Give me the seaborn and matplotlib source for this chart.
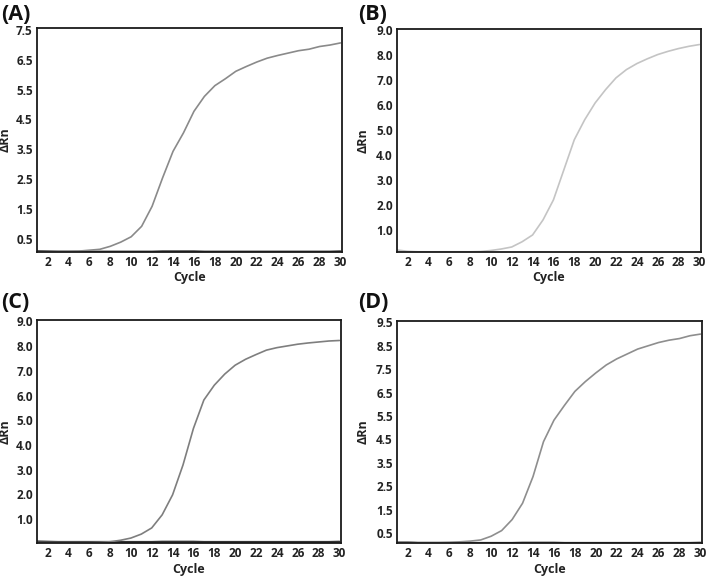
import matplotlib
matplotlib.use("Agg")
import matplotlib.pyplot as plt
import seaborn as sns
import pandas as pd

sns.set_theme(style="white")
plt.rcParams['font.family'] = ['Open Sans', 'DejaVu Sans']

cycles = list(range(1, 31))

curve_a = [0.08, 0.08, 0.08, 0.08, 0.09, 0.12, 0.15, 0.25, 0.39, 0.57,
           0.92, 1.59, 2.54, 3.43, 4.05, 4.77, 5.27, 5.63, 5.86, 6.11,
           6.27, 6.42, 6.55, 6.64, 6.72, 6.80, 6.85, 6.94, 6.99, 7.06]
curve_b = [0.20, 0.15, 0.13, 0.13, 0.13, 0.13, 0.13, 0.13, 0.14, 0.18,
           0.24, 0.32, 0.53, 0.80, 1.40, 2.20, 3.40, 4.60, 5.40, 6.07,
           6.60, 7.07, 7.40, 7.64, 7.83, 8.00, 8.13, 8.24, 8.33, 8.40]
curve_c = [0.05, 0.05, 0.05, 0.05, 0.05, 0.05, 0.06, 0.08, 0.14, 0.23,
           0.39, 0.64, 1.17, 1.98, 3.19, 4.67, 5.82, 6.42, 6.87, 7.23,
           7.47, 7.66, 7.84, 7.94, 8.01, 8.08, 8.13, 8.17, 8.21, 8.23]
curve_d = [0.12, 0.12, 0.09, 0.09, 0.09, 0.10, 0.12, 0.15, 0.20, 0.36,
           0.60, 1.07, 1.77, 2.91, 4.40, 5.32, 5.95, 6.55, 6.97, 7.34,
           7.68, 7.94, 8.15, 8.36, 8.50, 8.64, 8.74, 8.81, 8.93, 9.00]
neg_control = [0.09, 0.08, 0.07, 0.07, 0.07, 0.07, 0.07, 0.07, 0.07, 0.07,
               0.07, 0.07, 0.08, 0.08, 0.08, 0.08, 0.07, 0.07, 0.07, 0.07,
               0.07, 0.07, 0.07, 0.07, 0.07, 0.07, 0.07, 0.07, 0.07, 0.08]

panel_labels = ["(A)", "(B)", "(C)", "(D)"]
y_ticks = [
    [0.5, 1.5, 2.5, 3.5, 4.5, 5.5, 6.5, 7.5],
    [1.0, 2.0, 3.0, 4.0, 5.0, 6.0, 7.0, 8.0, 9.0],
    [1.0, 2.0, 3.0, 4.0, 5.0, 6.0, 7.0, 8.0, 9.0],
    [0.5, 1.5, 2.5, 3.5, 4.5, 5.5, 6.5, 7.5, 8.5, 9.5],
]
x_ticks = list(range(2, 31, 2))
curves = [curve_a, curve_b, curve_c, curve_d]
colors = ["#8a8a8a", "#c4c4c4", "#7e7e7e", "#8e8e8e"]
ylims = [(0.06, 7.56), (0.12, 9.02), (0.03, 9.06), (0.07, 9.56)]

W, H = 709, 577
fig = plt.figure(figsize=(W / 100, H / 100), dpi=100)
fig.patch.set_facecolor("white")

# axes boxes in pixel coords: left, top, right, bottom
boxes = [(37, 28, 342, 252), (397, 29, 701, 252),
         (37, 320, 341, 543), (397, 321, 702, 543)]
label_pos = [(1, 14), (358, 14), (1, 303), (358, 303)]
ylabel_x = [12, 370, 12, 370]
xlabel_y = [278, 278, 569, 569]

for i in range(4):
    l, t, r, b = boxes[i]
    ax = fig.add_axes([l / W, 1 - b / H, (r - l) / W, (b - t) / H])
    df = pd.DataFrame({"Cycle": cycles, "ΔRn": curves[i], "neg": neg_control})
    sns.lineplot(data=df, x="Cycle", y="neg", ax=ax, color="#333333", lw=1.6)
    sns.lineplot(data=df, x="Cycle", y="ΔRn", ax=ax, color=colors[i], lw=1.2)
    ax.set_xlim(1, 30.15)
    ax.set_ylim(*ylims[i])
    ax.set_xticks(x_ticks)
    ax.set_yticks(y_ticks[i])
    ax.set_yticklabels([f"{v:.1f}" for v in y_ticks[i]])
    ax.tick_params(axis="both", length=0, labelsize=8.5, labelcolor="#222222")
    ax.tick_params(axis="y", pad=3)
    ax.tick_params(axis="x", pad=3)
    for lab in ax.get_xticklabels() + ax.get_yticklabels():
        lab.set_fontweight("bold")
    ax.set_xlabel("Cycle", fontsize=9, fontweight="bold", color="#222222")
    ax.xaxis.label.set_va("center")
    ax.xaxis.set_label_coords(0.5, (b - xlabel_y[i]) / (b - t))
    ax.set_ylabel("ΔRn", fontsize=9, fontweight="bold", color="#222222")
    ax.yaxis.set_label_coords((ylabel_x[i] - l) / (r - l), 0.5)
    for s in ax.spines.values():
        s.set_visible(True)
        s.set_color("#1a1a1a")
        s.set_linewidth(1.3)
    lx, ly = label_pos[i]
    fig.text(lx / W, 1 - ly / H, panel_labels[i], fontsize=15.5, fontweight="bold",
             color="#111111", ha="left", va="center")

fig.savefig("out.png", dpi=100)
